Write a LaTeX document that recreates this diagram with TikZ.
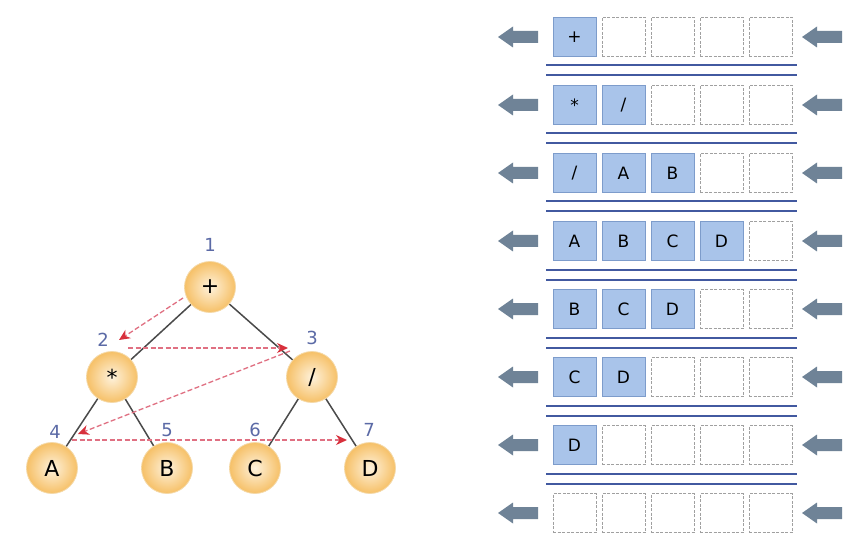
\documentclass[tikz,border=0pt]{standalone}
\usepackage{fontspec}
\setmainfont{DejaVu Sans}
\usetikzlibrary{arrows.meta}
\pgfdeclarelayer{background}
\pgfsetlayers{background,main}
\definecolor{orIn}{HTML}{FEF2DC}
\definecolor{orOut}{HTML}{F6C067}
\definecolor{orBorder}{HTML}{F5D9A8}
\definecolor{numBlue}{HTML}{5B6AA6}
\definecolor{edgeGray}{HTML}{4A4A4A}
\definecolor{redArrow}{HTML}{D8303C}
\definecolor{redLine}{HTML}{E07082}
\definecolor{cellFill}{HTML}{A9C4EA}
\definecolor{cellBorder}{HTML}{7D9CCB}
\definecolor{emptyBorder}{HTML}{A0A0A0}
\definecolor{lineBlue}{HTML}{4259A0}
\definecolor{arrGray}{HTML}{6F8397}
\tikzset{
  treenode/.style={circle, minimum size=51pt, inner sep=0pt, inner color=orIn, outer color=orOut,
    draw=orBorder, line width=0.8pt, font=\fontsize{22}{22}\selectfont},
  numlbl/.style={text=numBlue, font=\fontsize{18}{18}\selectfont, inner sep=0pt},
  treeedge/.style={draw=edgeGray, line width=1.5pt},
  travarrow/.style={draw=redLine, line width=1.3pt, dash pattern=on 5pt off 2.5pt,
    -{Stealth[length=11pt,width=10pt,color=redArrow]}},
  cellfull/.style={draw=cellBorder, fill=cellFill, minimum width=43pt, minimum height=39pt,
    inner sep=0pt, line width=0.7pt, font=\fontsize{17}{17}\selectfont},
  cellempty/.style={draw=emptyBorder, dash pattern=on 3pt off 1.5pt, minimum width=43pt,
    minimum height=39pt, inner sep=0pt, line width=0.7pt},
  sepline/.style={draw=lineBlue, line width=2pt},
  sidearrow/.style={fill=arrGray, draw=none}
}
\begin{document}
\begin{tikzpicture}[x=1pt,y=-1pt]
\useasboundingbox (0,0) rectangle (848,553);
\begin{pgfonlayer}{background}
\fill[white] (0,0) rectangle (848,553);
\end{pgfonlayer}

% ---------- tree ----------
\node[treenode] (plus) at (210,287) {+};
\node[treenode] (mul)  at (112,377) {*};
\node[treenode] (div)  at (312,377) {/};
\node[treenode] (na)   at (52,468)  {A};
\node[treenode] (nb)   at (167,468) {B};
\node[treenode] (nc)   at (255,468) {C};
\node[treenode] (nd)   at (370,468) {D};

\begin{pgfonlayer}{background}
\draw[treeedge] (plus.center) -- (mul.center);
\draw[treeedge] (plus.center) -- (div.center);
\draw[treeedge] (mul.center) -- (na.center);
\draw[treeedge] (mul.center) -- (nb.center);
\draw[treeedge] (div.center) -- (nc.center);
\draw[treeedge] (div.center) -- (nd.center);
\end{pgfonlayer}

\node[numlbl] (l1) at (210,245) {1};
\node[numlbl] (l2) at (103,340) {2};
\node[numlbl] (l3) at (312,338) {3};
\node[numlbl] (l4) at (55,432)  {4};
\node[numlbl] (l5) at (167,430) {5};
\node[numlbl] (l6) at (255,430) {6};
\node[numlbl] (l7) at (369,430) {7};

\coordinate (t1s) at (183,298);
\coordinate (t1e) at (119,340);
\coordinate (t2s) at (128,348);
\coordinate (t2e) at (288,348);
\coordinate (t3s) at (290,351);
\coordinate (t3e) at (78,434);
\coordinate (t4s) at (72,440);
\coordinate (t4e) at (347,440);
\draw[travarrow] (t1s) -- (t1e);
\draw[travarrow] (t2s) -- (t2e);
\draw[travarrow] (t3s) -- (t3e);
\draw[travarrow] (t4s) -- (t4e);

% ---------- queue rows ----------
\foreach \i in {1,...,8} {
  \pgfmathsetmacro{\yc}{37+68*(\i-1)}
  \fill[sidearrow] (498,\yc) -- (513,\yc-10.5) -- (513,\yc-6) -- (538,\yc-6)
     -- (538,\yc+6) -- (513,\yc+6) -- (513,\yc+10.5) -- cycle;
  \fill[sidearrow] (802,\yc) -- (817,\yc-10.5) -- (817,\yc-6) -- (842,\yc-6)
     -- (842,\yc+6) -- (817,\yc+6) -- (817,\yc+10.5) -- cycle;
}
\foreach \i in {1,...,7} {
  \pgfmathsetmacro{\yc}{37+68*(\i-1)}
  \draw[sepline] (546,\yc+28.5) -- (797,\yc+28.5);
  \draw[sepline] (546,\yc+38.5) -- (797,\yc+38.5);
}

% row 1: +
\node[cellfull]  (r1c1) at (574.5,37) {+};
\foreach \j in {2,...,5} \node[cellempty] (r1c\j) at ({574.5+49*(\j-1)},37) {};
% row 2: * /
\node[cellfull]  (r2c1) at (574.5,105) {*};
\node[cellfull]  (r2c2) at (623.5,105) {/};
\foreach \j in {3,...,5} \node[cellempty] (r2c\j) at ({574.5+49*(\j-1)},105) {};
% row 3: / A B
\node[cellfull]  (r3c1) at (574.5,173) {/};
\node[cellfull]  (r3c2) at (623.5,173) {A};
\node[cellfull]  (r3c3) at (672.5,173) {B};
\foreach \j in {4,5} \node[cellempty] (r3c\j) at ({574.5+49*(\j-1)},173) {};
% row 4: A B C D
\node[cellfull]  (r4c1) at (574.5,241) {A};
\node[cellfull]  (r4c2) at (623.5,241) {B};
\node[cellfull]  (r4c3) at (672.5,241) {C};
\node[cellfull]  (r4c4) at (721.5,241) {D};
\node[cellempty] (r4c5) at (770.5,241) {};
% row 5: B C D
\node[cellfull]  (r5c1) at (574.5,309) {B};
\node[cellfull]  (r5c2) at (623.5,309) {C};
\node[cellfull]  (r5c3) at (672.5,309) {D};
\foreach \j in {4,5} \node[cellempty] (r5c\j) at ({574.5+49*(\j-1)},309) {};
% row 6: C D
\node[cellfull]  (r6c1) at (574.5,377) {C};
\node[cellfull]  (r6c2) at (623.5,377) {D};
\foreach \j in {3,...,5} \node[cellempty] (r6c\j) at ({574.5+49*(\j-1)},377) {};
% row 7: D
\node[cellfull]  (r7c1) at (574.5,445) {D};
\foreach \j in {2,...,5} \node[cellempty] (r7c\j) at ({574.5+49*(\j-1)},445) {};
% row 8: empty
\foreach \j in {1,...,5} \node[cellempty] (r8c\j) at ({574.5+49*(\j-1)},513) {};
\end{tikzpicture}
\end{document}
